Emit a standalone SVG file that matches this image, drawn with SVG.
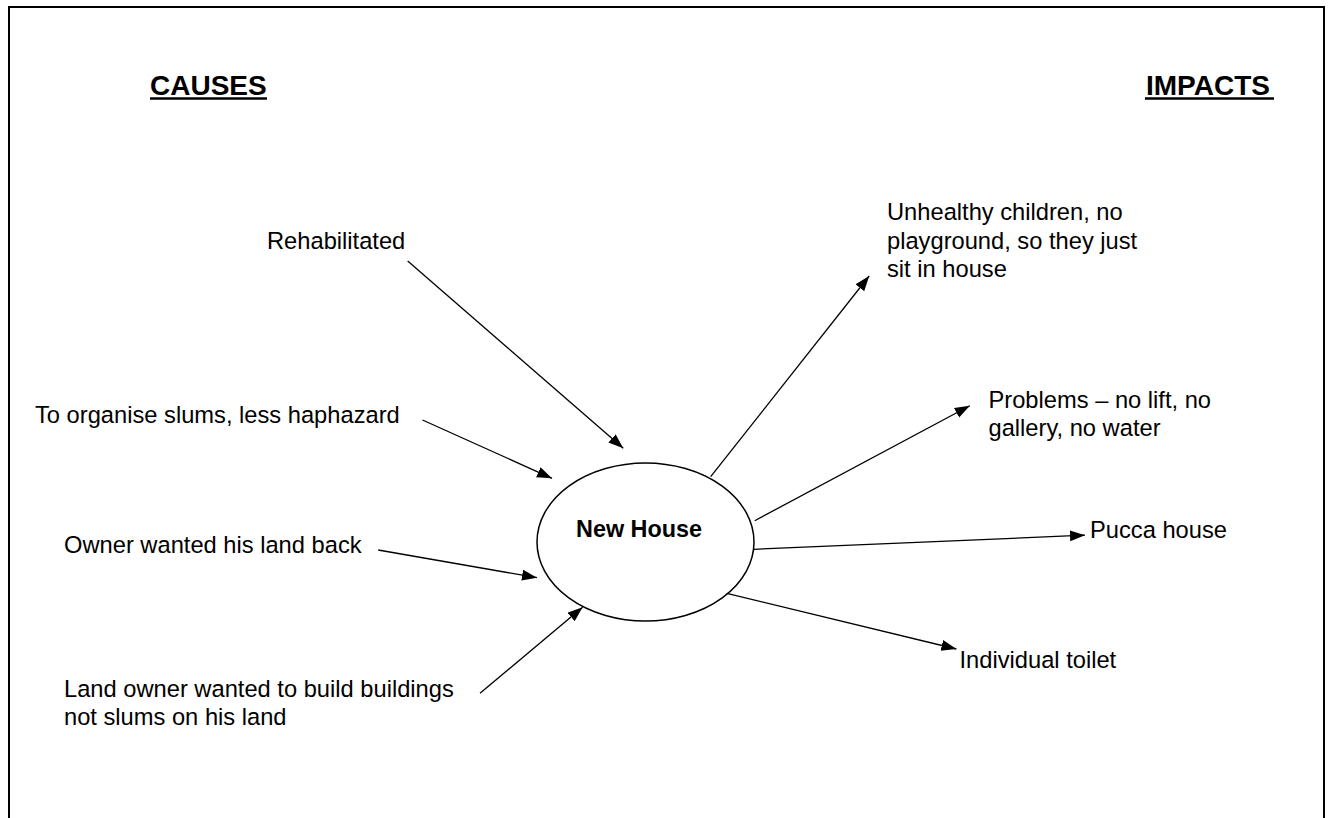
<svg xmlns="http://www.w3.org/2000/svg" width="1332" height="818" viewBox="0 0 1332 818">
  <style>
    .lbl { font-family: "Liberation Sans", Arial, sans-serif; font-size: 23.7px; fill: #000; }
    .head { font-family: "Liberation Sans", Arial, sans-serif; font-size: 28px; font-weight: bold; fill: #000; }
    .center { font-family: "Liberation Sans", Arial, sans-serif; font-size: 23.4px; font-weight: bold; fill: #000; }
    .conn { stroke: #000; stroke-width: 1.3; fill: none; marker-end: url(#arrow); }
    .uline { stroke: #000; stroke-width: 2.5; }
  </style>
  <defs>
    <marker id="arrow" markerUnits="userSpaceOnUse" markerWidth="16" markerHeight="12" refX="15" refY="5.5" orient="auto">
      <path d="M0,0 L15,5.5 L0,11 z" fill="#000"/>
    </marker>
  </defs>
  <rect x="0" y="0" width="1332" height="818" fill="#fff"/>
  <path d="M9,830 V7 H1324 V830" fill="none" stroke="#000" stroke-width="2"/>

  <g id="heading-causes">
    <text class="head" x="150" y="94.5">CAUSES</text>
    <line class="uline" x1="150" y1="98.5" x2="267" y2="98.5"/>
  </g>
  <g id="heading-impacts">
    <text class="head" x="1146" y="94.5">IMPACTS</text>
    <line class="uline" x1="1145" y1="98.5" x2="1274" y2="98.5"/>
  </g>

  <g id="node-new-house">
    <ellipse cx="645.5" cy="542" rx="108.5" ry="79" fill="#fff" stroke="#000" stroke-width="1.5"/>
    <text class="center" x="576" y="537">New House</text>
  </g>

  <g id="node-rehabilitated">
    <text class="lbl" x="267" y="249">Rehabilitated</text>
  </g>
  <g id="node-organise">
    <text class="lbl" x="35" y="423">To organise slums, less haphazard</text>
  </g>
  <g id="node-owner">
    <text class="lbl" x="64" y="552.5">Owner wanted his land back</text>
  </g>
  <g id="node-landowner">
    <text class="lbl" x="64" y="697">Land owner wanted to build buildings</text>
    <text class="lbl" x="64" y="725">not slums on his land</text>
  </g>

  <g id="node-unhealthy">
    <text class="lbl" x="887" y="220">Unhealthy children, no</text>
    <text class="lbl" x="887" y="248.5">playground, so they just</text>
    <text class="lbl" x="887" y="277">sit in house</text>
  </g>
  <g id="node-problems">
    <text class="lbl" x="988.5" y="407.5">Problems – no lift, no</text>
    <text class="lbl" x="988.5" y="436">gallery, no water</text>
  </g>
  <g id="node-pucca">
    <text class="lbl" x="1090" y="537.5">Pucca house</text>
  </g>
  <g id="node-toilet">
    <text class="lbl" x="959.5" y="667.5">Individual toilet</text>
  </g>

  <g id="connectors">
    <line class="conn" x1="407.7" y1="261" x2="623.3" y2="448.3"/>
    <line class="conn" x1="422.5" y1="420" x2="552" y2="478.3"/>
    <line class="conn" x1="378.2" y1="550" x2="537" y2="577.7"/>
    <line class="conn" x1="480" y1="693.3" x2="582.6" y2="607.3"/>
    <line class="conn" x1="710.7" y1="476.7" x2="869.2" y2="276"/>
    <line class="conn" x1="754.7" y1="520.7" x2="969.8" y2="405.7"/>
    <line class="conn" x1="753.6" y1="549.3" x2="1085" y2="535.2"/>
    <line class="conn" x1="726.8" y1="593.3" x2="956.4" y2="649"/>
  </g>
</svg>
